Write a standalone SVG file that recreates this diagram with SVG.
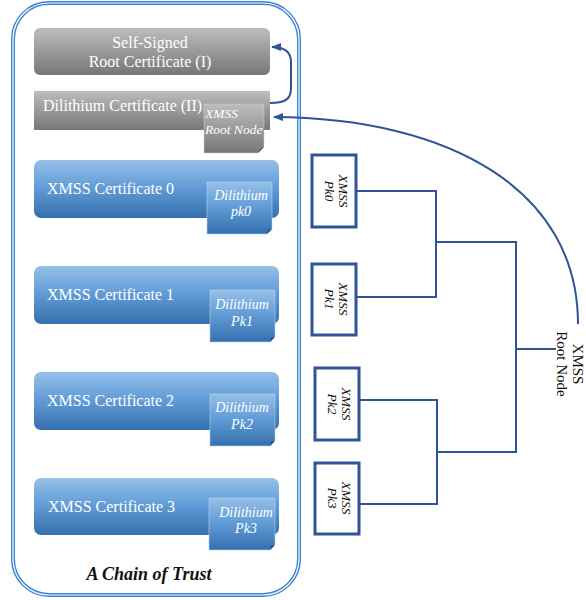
<svg xmlns="http://www.w3.org/2000/svg" width="586" height="600" viewBox="0 0 586 600">
<defs>
<linearGradient id="gray" x1="0" y1="0" x2="0" y2="1"><stop offset="0" stop-color="#bdbdbd"/><stop offset="1" stop-color="#777"/></linearGradient>
<linearGradient id="blue" x1="0" y1="0" x2="0" y2="1"><stop offset="0" stop-color="#95c0e8"/><stop offset="0.5" stop-color="#5f9ad6"/><stop offset="1" stop-color="#3570ae"/></linearGradient>
<marker id="ah" markerWidth="10" markerHeight="8" refX="9" refY="4" orient="auto" markerUnits="userSpaceOnUse"><path d="M0,0 L10,4 L0,8 Z" fill="#2f5597"/></marker>
<style>
.w{font-family:"Liberation Serif",serif;fill:#fff;font-size:16px}
.wi{font-family:"Liberation Serif",serif;fill:#fff;font-size:14px;font-style:italic}
.k{font-family:"Liberation Serif",serif;fill:#111;font-size:13.5px;font-style:italic}
.ln{fill:none;stroke:#2f5597;stroke-width:2}
.pk{fill:#fff;stroke:#2f5597;stroke-width:3}
</style>
</defs>
<g id="container">
<rect x="13" y="3" width="286" height="592" rx="36" fill="none" stroke="#3b84d0" stroke-width="4"/>
<rect x="13" y="3" width="286" height="592" rx="36" fill="none" stroke="#fff" stroke-width="1.2"/>
<text x="149" y="580" text-anchor="middle" style="font-family:'Liberation Serif',serif;font-size:18px;font-weight:bold;font-style:italic;fill:#111">A Chain of Trust</text>
</g>
<g id="root-cert">
<rect x="34" y="28" width="236" height="47" rx="6" fill="url(#gray)"/>
<text class="w" x="150" y="48" text-anchor="middle">Self-Signed</text>
<text class="w" x="150" y="67" text-anchor="middle">Root Certificate (I)</text>
</g>
<g id="dilithium-cert">
<rect x="34" y="91" width="236" height="39" fill="url(#gray)"/>
<text class="w" x="43" y="111">Dilithium Certificate (II)</text>
<path d="M204,104 H264 V147 L258,153 H204 Z" fill="url(#gray)" stroke="#ccc" stroke-width="0.5"/>
<path d="M258,153 L260,149 L264,147 Z" fill="#555"/>
<text class="wi" x="205" y="118" style="font-size:13.5px">XMSS</text>
<text class="wi" x="205" y="134" style="font-size:13.5px">Root Node</text>
</g>
<g id="xmss-cert-0">
<rect x="34" y="160" width="245" height="58" rx="7" fill="url(#blue)"/>
<text class="w" x="47" y="194">XMSS Certificate 0</text>
<path d="M207,182 H272 V229 L267,234 H207 Z" fill="url(#blue)" stroke="#b5d3f0" stroke-width="0.6"/>
<path d="M267,234 L268,230 L272,229 Z" fill="#234f80"/>
<text class="wi" x="241" y="200" text-anchor="middle">Dilithium</text>
<text class="wi" x="241" y="216" text-anchor="middle">pk0</text>
</g>
<g id="xmss-cert-1">
<rect x="34" y="266" width="245" height="58" rx="7" fill="url(#blue)"/>
<text class="w" x="47" y="300">XMSS Certificate 1</text>
<path d="M210,290 H275 V337 L270,342 H210 Z" fill="url(#blue)" stroke="#b5d3f0" stroke-width="0.6"/>
<path d="M270,342 L271,338 L275,337 Z" fill="#234f80"/>
<text class="wi" x="242" y="309" text-anchor="middle">Dilithium</text>
<text class="wi" x="242" y="326" text-anchor="middle">Pk1</text>
</g>
<g id="xmss-cert-2">
<rect x="34" y="372" width="245" height="58" rx="7" fill="url(#blue)"/>
<text class="w" x="47" y="406">XMSS Certificate 2</text>
<path d="M210,394 H275 V441 L270,446 H210 Z" fill="url(#blue)" stroke="#b5d3f0" stroke-width="0.6"/>
<path d="M270,446 L271,442 L275,441 Z" fill="#234f80"/>
<text class="wi" x="242" y="412" text-anchor="middle">Dilithium</text>
<text class="wi" x="242" y="429" text-anchor="middle">Pk2</text>
</g>
<g id="xmss-cert-3">
<rect x="34" y="478" width="245" height="57" rx="7" fill="url(#blue)"/>
<text class="w" x="48" y="512">XMSS Certificate 3</text>
<path d="M209,498 H275 V545 L270,550 H209 Z" fill="url(#blue)" stroke="#b5d3f0" stroke-width="0.6"/>
<path d="M270,550 L271,546 L275,545 Z" fill="#234f80"/>
<text class="wi" x="246" y="517" text-anchor="middle">Dilithium</text>
<text class="wi" x="246" y="533" text-anchor="middle">Pk3</text>
</g>
<g id="pk0">
<rect class="pk" x="312" y="155" width="44" height="72"/>
<text class="k" transform="translate(339,191) rotate(90)" text-anchor="middle">XMSS</text>
<text class="k" transform="translate(325,191) rotate(90)" text-anchor="middle">Pk0</text>
</g>
<g id="pk1">
<rect class="pk" x="312" y="264" width="44" height="71"/>
<text class="k" transform="translate(339,299) rotate(90)" text-anchor="middle">XMSS</text>
<text class="k" transform="translate(325,299) rotate(90)" text-anchor="middle">Pk1</text>
</g>
<g id="pk2">
<rect class="pk" x="315" y="368" width="44" height="72"/>
<text class="k" transform="translate(342,404) rotate(90)" text-anchor="middle">XMSS</text>
<text class="k" transform="translate(328,404) rotate(90)" text-anchor="middle">Pk2</text>
</g>
<g id="pk3">
<rect class="pk" x="315" y="463" width="44" height="71"/>
<text class="k" transform="translate(342,498) rotate(90)" text-anchor="middle">XMSS</text>
<text class="k" transform="translate(328,498) rotate(90)" text-anchor="middle">Pk3</text>
</g>
<g id="root-node-label">
<text transform="translate(573,364) rotate(90)" text-anchor="middle" style="font-family:'Liberation Serif',serif;font-size:15px;fill:#111">XMSS</text>
<text transform="translate(557,364) rotate(90)" text-anchor="middle" style="font-family:'Liberation Serif',serif;font-size:15px;fill:#111">Root Node</text>
</g>
<g id="connectors">
<path class="ln" d="M356,191 H436 V297 H356"/>
<path class="ln" d="M359,400 H437 V504 H359"/>
<path class="ln" d="M436,242 H516 V452 H437"/>
<path class="ln" d="M516,349 H556"/>
<path class="ln" d="M270,103 C288,103 291,97 291,88 V62 C291,52 285,47 272,47" marker-end="url(#ah)"/>
<path class="ln" d="M578,324 C578,190 450,118 274,117" marker-end="url(#ah)"/>
</g>
</svg>
